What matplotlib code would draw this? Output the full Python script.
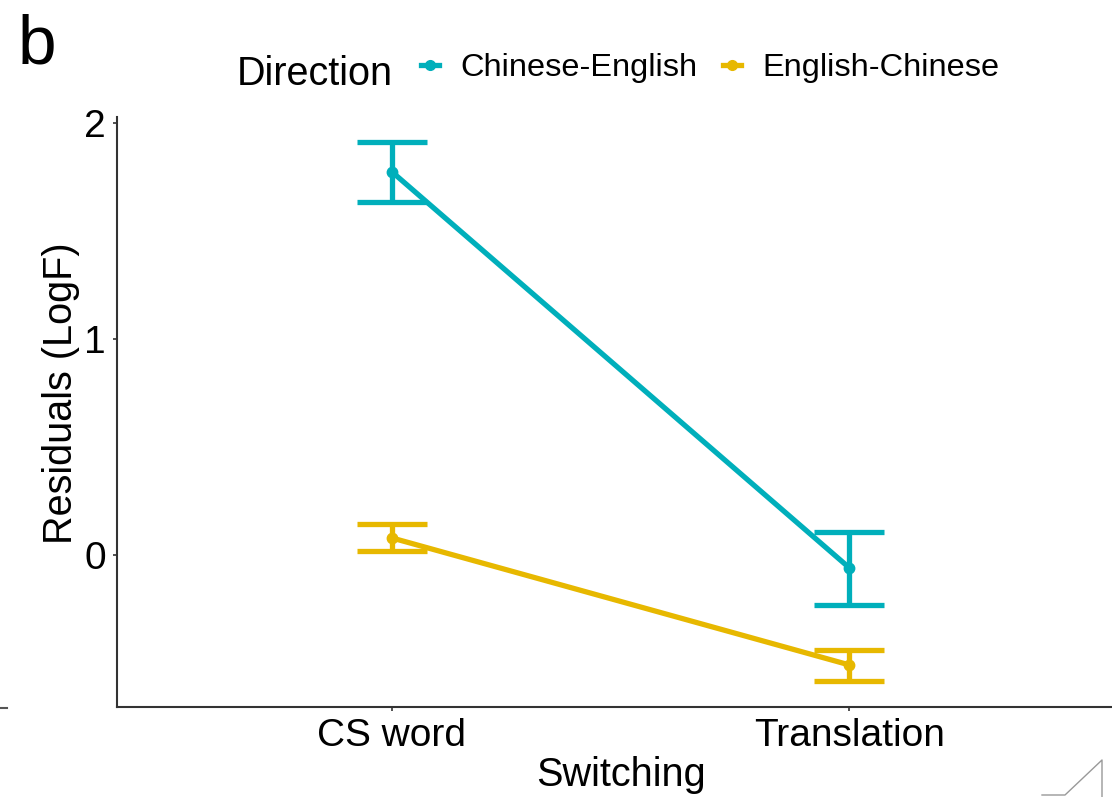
import matplotlib
matplotlib.use("Agg")
import matplotlib.pyplot as plt
from matplotlib.lines import Line2D

plt.rcParams['font.family'] = ['Liberation Sans', 'DejaVu Sans']

# data
switching = ['CS word', 'Translation']
directions = ['Chinese-English', 'English-Chinese']
colors = ['#00AFBB', '#E7B800']
means = {
    'Chinese-English': [1.777, -0.060],
    'English-Chinese': [0.079, -0.510],
}
lower = {
    'Chinese-English': [1.638, -0.232],
    'English-Chinese': [0.019, -0.585],
}
upper = {
    'Chinese-English': [1.916, 0.107],
    'English-Chinese': [0.144, -0.441],
}
yticks = [0, 1, 2]

W, H = 1112, 797
fig = plt.figure(figsize=(W / 100, H / 100), dpi=100)
ax = fig.add_axes([117 / W, (H - 707) / H, 1007 / W, 590 / H])

x = list(range(1, len(switching) + 1))
for d, c in zip(directions, colors):
    m = means[d]
    err = [[mi - lo for mi, lo in zip(m, lower[d])],
           [up - mi for mi, up in zip(m, upper[d])]]
    ax.errorbar(x, m, yerr=err, color=c, lw=3.8, elinewidth=3.8,
                capthick=3.8, capsize=25.2, marker='o', markersize=7.5,
                zorder=3)

ax.set_xlim(0.4, 2.6)
ax.set_ylim(-0.705, 2.03)
ax.set_xticks(x)
ax.set_xticklabels(switching)
ax.set_yticks(yticks)
ax.tick_params(labelsize=28, length=3, width=1.2, color='#333333',
               labelcolor='black', pad=5)
for s in ['top', 'right']:
    ax.spines[s].set_visible(False)
for s in ['left', 'bottom']:
    ax.spines[s].set_linewidth(1.5)
    ax.spines[s].set_color('#333333')

ax.set_xlabel('Switching', fontsize=28.5)
ax.set_ylabel('Residuals (LogF)', fontsize=28.5)
ax.xaxis.label.set_va('center')
ax.yaxis.label.set_va('center')
ax.xaxis.set_label_coords(0.5, (H - 775 - 90) / 590)
ax.yaxis.set_label_coords((61 - 117) / 1007, (707 - 393) / 590)

# legend on top
handles = [Line2D([0], [0], color=c, lw=3.8, marker='o', markersize=7)
           for c in colors]
fig.text(237 / W, 1 - 85 / H, 'Direction', fontsize=28.5, va='baseline')
fig.legend(handles, directions, loc='center left', ncol=2, frameon=False,
           bbox_to_anchor=(421 / W, 1 - 68 / H), fontsize=23.4,
           handlelength=0.55, handletextpad=0.65, columnspacing=0.8,
           borderpad=0, borderaxespad=0)

# panel tag
fig.text(18 / W, 1 - 63 / H, 'b', fontsize=50, va='baseline')

# leftover bits at the edges of the screenshot
fig.add_artist(Line2D([0, 7 / W], [1 - 707.5 / H, 1 - 707.5 / H],
                      color='#555555', lw=1.5))
fig.add_artist(Line2D([1042 / W, 1065 / W, 1102 / W, 1102 / W],
                      [1 - 795 / H, 1 - 795 / H, 1 - 760 / H, 0],
                      color='#999999', lw=1))

fig.savefig('out.png', dpi=100)
